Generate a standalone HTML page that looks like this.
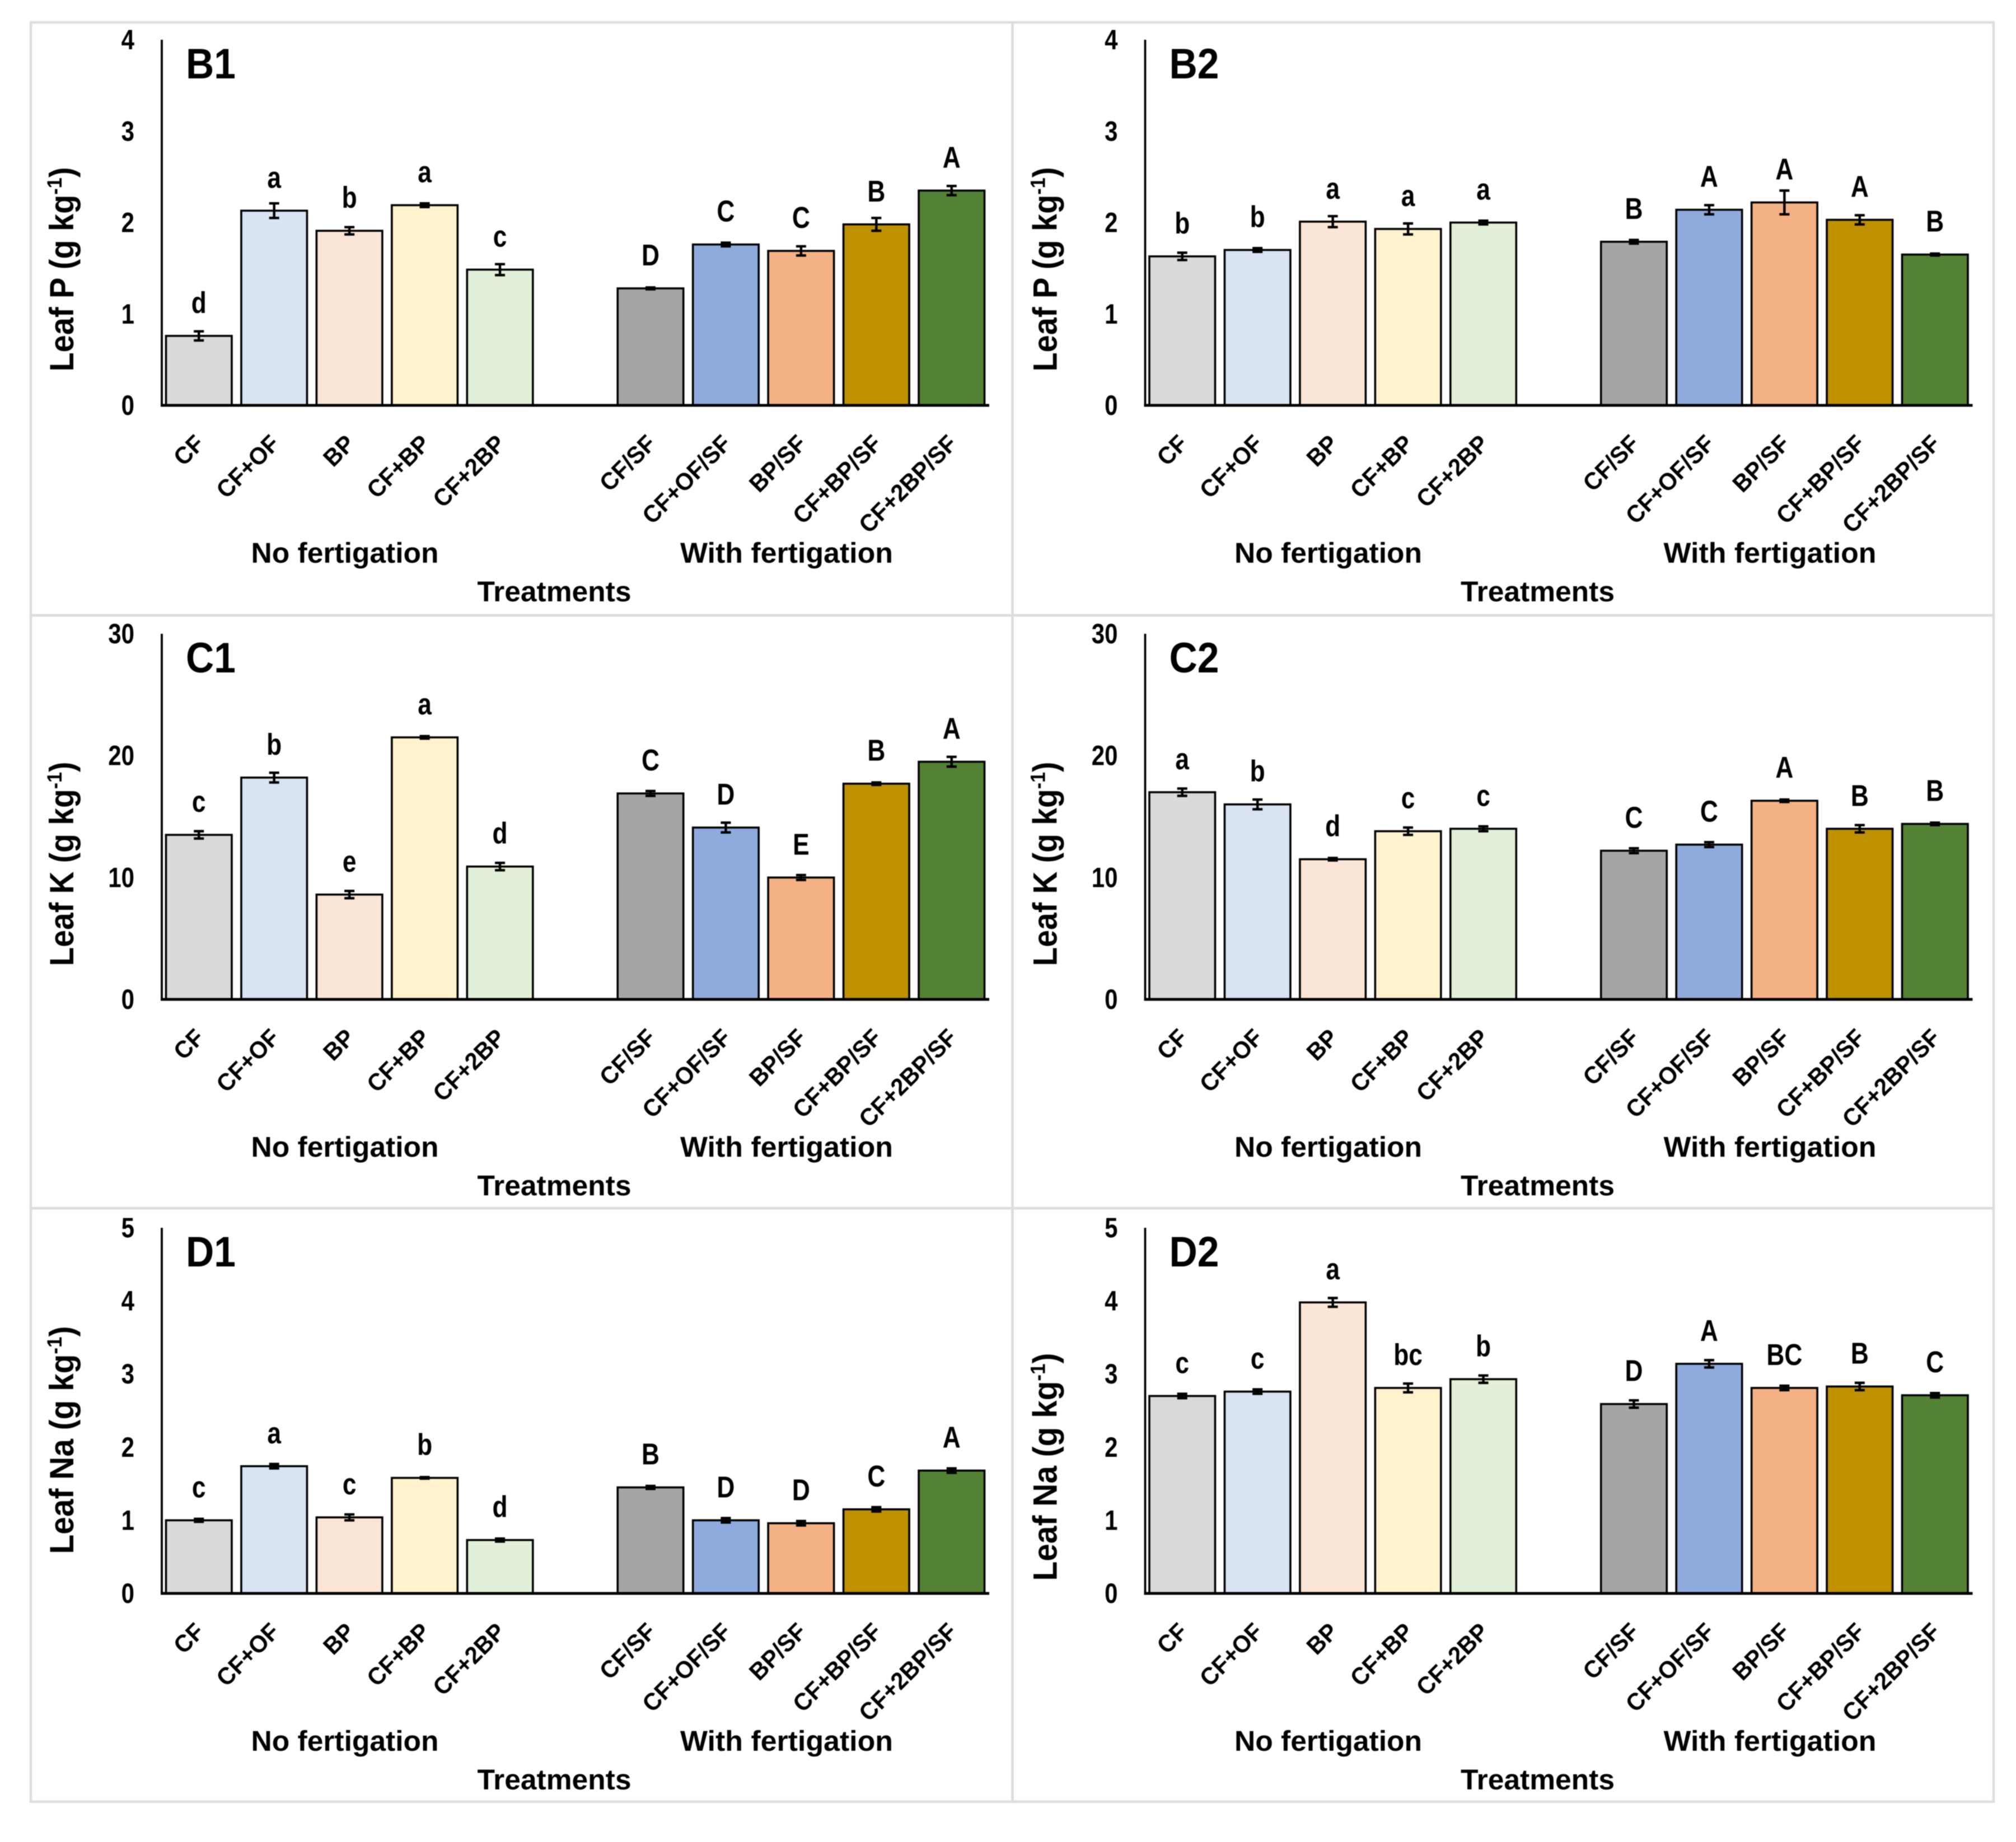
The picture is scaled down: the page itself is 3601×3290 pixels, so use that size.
<!DOCTYPE html>
<html lang="en">
<head>
<meta charset="utf-8">
<title>Leaf nutrient concentrations by treatment</title>
<style>
  html, body { margin: 0; padding: 0; background: #fff; }
  svg { display: block; filter: blur(0.7px); }
  text { font-family: "Liberation Sans", sans-serif; font-weight: 700; fill: #000; }
</style>
</head>
<body>
<svg id="figure" xmlns="http://www.w3.org/2000/svg" width="3601" height="3290" viewBox="0 0 3601 3290">
  <rect x="0" y="0" width="3601" height="3290" fill="#ffffff"/>
</svg>
<script>
// ---- Chart data -------------------------------------------------------
const categories = ['CF', 'CF+OF', 'BP', 'CF+BP', 'CF+2BP', '', 'CF/SF', 'CF+OF/SF', 'BP/SF', 'CF+BP/SF', 'CF+2BP/SF'];
const groupLabels = ['No fertigation', 'With fertigation'];
const barColors = ['#D9D9D9', '#DAE3F3', '#FBE5D6', '#FFF2CC', '#E2F0D9', 'none', '#A5A5A5', '#8FAADC', '#F4B183', '#BF9000', '#548235'];

const ticksP = [0, 1, 2, 3, 4];
const ticksK = [0, 10, 20, 30];
const ticksNa = [0, 1, 2, 3, 4, 5];

const valuesB1 = [0.76, 2.13, 1.91, 2.19, 1.485, null, 1.28, 1.76, 1.69, 1.98, 2.35];
const errorsB1 = [0.05, 0.08, 0.04, 0.02, 0.06, null, 0.01, 0.02, 0.05, 0.07, 0.05];
const lettersB1 = ['d', 'a', 'b', 'a', 'c', '', 'D', 'C', 'C', 'B', 'A'];

const valuesB2 = [1.63, 1.70, 2.01, 1.93, 2.00, null, 1.79, 2.14, 2.22, 2.03, 1.65];
const errorsB2 = [0.04, 0.02, 0.06, 0.06, 0.02, null, 0.02, 0.05, 0.13, 0.05, 0.01];
const lettersB2 = ['b', 'b', 'a', 'a', 'a', '', 'B', 'A', 'A', 'A', 'B'];

const valuesC1 = [13.5, 18.2, 8.6, 21.5, 10.9, null, 16.9, 14.1, 10.0, 17.7, 19.5];
const errorsC1 = [0.3, 0.4, 0.3, 0.1, 0.3, null, 0.2, 0.4, 0.2, 0.1, 0.4];
const lettersC1 = ['c', 'b', 'e', 'a', 'd', '', 'C', 'D', 'E', 'B', 'A'];

const valuesC2 = [17.0, 16.0, 11.5, 13.8, 14.0, null, 12.2, 12.7, 16.3, 14.0, 14.4];
const errorsC2 = [0.3, 0.4, 0.1, 0.3, 0.2, null, 0.2, 0.2, 0.1, 0.3, 0.1];
const lettersC2 = ['a', 'b', 'd', 'c', 'c', '', 'C', 'C', 'A', 'B', 'B'];

const valuesD1 = [1.00, 1.74, 1.04, 1.58, 0.73, null, 1.45, 1.00, 0.96, 1.15, 1.68];
const errorsD1 = [0.02, 0.03, 0.04, 0.01, 0.02, null, 0.02, 0.03, 0.03, 0.03, 0.03];
const lettersD1 = ['c', 'a', 'c', 'b', 'd', '', 'B', 'D', 'D', 'C', 'A'];

const valuesD2 = [2.70, 2.76, 3.98, 2.81, 2.93, null, 2.59, 3.14, 2.81, 2.83, 2.71];
const errorsD2 = [0.03, 0.03, 0.06, 0.06, 0.05, null, 0.05, 0.05, 0.03, 0.05, 0.03];
const lettersD2 = ['c', 'c', 'a', 'bc', 'b', '', 'D', 'A', 'BC', 'B', 'C'];

const panels = [
  { id: 'B1', col: 0, row: 0, nutrient: 'P',  ticks: ticksP,  values: valuesB1, errors: errorsB1, letters: lettersB1 },
  { id: 'B2', col: 1, row: 0, nutrient: 'P',  ticks: ticksP,  values: valuesB2, errors: errorsB2, letters: lettersB2 },
  { id: 'C1', col: 0, row: 1, nutrient: 'K',  ticks: ticksK,  values: valuesC1, errors: errorsC1, letters: lettersC1 },
  { id: 'C2', col: 1, row: 1, nutrient: 'K',  ticks: ticksK,  values: valuesC2, errors: errorsC2, letters: lettersC2 },
  { id: 'D1', col: 0, row: 2, nutrient: 'Na', ticks: ticksNa, values: valuesD1, errors: errorsD1, letters: lettersD1 },
  { id: 'D2', col: 1, row: 2, nutrient: 'Na', ticks: ticksNa, values: valuesD2, errors: errorsD2, letters: lettersD2 }
];

// ---- Layout -----------------------------------------------------------
const SVG_NS = 'http://www.w3.org/2000/svg';
const svg = document.getElementById('figure');
const COL_STEP = 1756.5, ROW_STEP = 1061;
const AXIS_LEFT = 289, AXIS_RIGHT = 1767, AXIS_TOP = 71, AXIS_BOTTOM = 724;
const BAND = (AXIS_RIGHT - 288) / categories.length;
const BAR_WIDTH = 117.5;
const CAP_HALF = 9;

function make(tag, attrs, parent) {
  const el = document.createElementNS(SVG_NS, tag);
  for (const key in attrs) el.setAttribute(key, attrs[key]);
  parent.appendChild(el);
  return el;
}

function place(el, x, y, rotate, fitWidth, scaleX) {
  let sx = scaleX || 1;
  if (fitWidth) sx = fitWidth / el.getComputedTextLength();
  el.setAttribute('transform', 'translate(' + x + ' ' + y + ') rotate(' + (rotate || 0) + ') scale(' + sx + ' 1)');
}

// Panel frames
const frameColumns = [55, 1808.5, 3561];
const frameRows = [40, 1099, 2158, 3218];
const frames = make('g', { fill: 'none', stroke: '#dddddd', 'stroke-width': 4.5 }, svg);


for (let c = 0; c < 2; c++) {
  for (let r = 0; r < 3; r++) {
    const frame = make('rect', {
      x: frameColumns[c], y: frameRows[r],
      width: frameColumns[c + 1] - frameColumns[c],
      height: frameRows[r + 1] - frameRows[r]
    }, frames);
    
    
  }
}

panels.forEach(function (p) {
  const maxTick = p.ticks[p.ticks.length - 1];
  const yScale = function (v) { return AXIS_BOTTOM - (v / maxTick) * (AXIS_BOTTOM - AXIS_TOP); };
  const xScale = function (i) { return 288 + BAND * (i + 0.5); };

  const g = make('g', { transform: 'translate(' + (p.col * COL_STEP) + ' ' + (p.row * ROW_STEP) + ')' }, svg);
  
  

  // Bars, error bars, significance letters
  p.values.forEach(function (value, i) {
    if (value === null) return;
    const cx = xScale(i);
    const bar = make('rect', {
      x: cx - BAR_WIDTH / 2, y: yScale(value),
      width: BAR_WIDTH, height: AXIS_BOTTOM - yScale(value),
      fill: barColors[i], stroke: '#000000', 'stroke-width': 3.6
    }, g);
    
    

    const hi = yScale(value + p.errors[i]);
    const lo = yScale(value - p.errors[i]);
    const err = make('path', {
      d: 'M' + (cx - CAP_HALF) + ' ' + hi + 'H' + (cx + CAP_HALF) +
         'M' + cx + ' ' + hi + 'V' + lo +
         'M' + (cx - CAP_HALF) + ' ' + lo + 'H' + (cx + CAP_HALF),
      fill: 'none', stroke: '#000000', 'stroke-width': 4.4
    }, g);
    
    

    const letter = make('text', { 'font-size': 54, 'text-anchor': 'middle' }, g);
    letter.textContent = p.letters[i];
    
    
    place(letter, cx, yScale(value) - 41, 0, 0, 0.82);

    const catLabel = make('text', { 'font-size': 43, 'text-anchor': 'end' }, g);
    catLabel.textContent = categories[i];
    
    
    place(catLabel, cx + 12, 795, -45, 0, 0.97);
  });

  // Axes
  const yAxis = make('line', { x1: AXIS_LEFT, x2: AXIS_LEFT, y1: AXIS_TOP, y2: AXIS_BOTTOM, stroke: '#000', 'stroke-width': 3.8 }, g);
  
  
  const xAxis = make('line', { x1: AXIS_LEFT - 2, x2: AXIS_RIGHT, y1: AXIS_BOTTOM, y2: AXIS_BOTTOM, stroke: '#000', 'stroke-width': 5 }, g);
  
  

  // Y tick labels
  p.ticks.forEach(function (tick) {
    const t = make('text', { 'font-size': 50, 'text-anchor': 'end' }, g);
    t.textContent = tick;
    
    
    place(t, 240, yScale(tick) + 17, 0, 0, 0.84);
  });

  // Y axis title
  const isNa = p.nutrient === 'Na';
  const title = make('text', { 'font-size': 60, 'text-anchor': 'middle' }, g);
  
  
  title.appendChild(document.createTextNode('Leaf ' + p.nutrient + '  (g kg'));
  const sup = make('tspan', { 'font-size': 37, dy: -21 }, title);
  sup.textContent = '-1';
  const close = make('tspan', { dy: 21 }, title);
  close.textContent = ')';
  let titleCenter = 481;
  if (p.id === 'C1' || p.id === 'C2') titleCenter = 482;
  if (p.id === 'D1') titleCenter = 450;
  if (p.id === 'D2') titleCenter = 498;
  place(title, 131, titleCenter, -90, isNa ? 407 : 365);

  // Panel tag
  const tag = make('text', { 'font-size': 76 }, g);
  tag.textContent = p.id;
  
  
  place(tag, 332, 140, 0, 89);

  // Group labels
  const groupCenters = [616, 1405];
  const groupWidths = [335, 380];
  groupLabels.forEach(function (label, k) {
    const t = make('text', { 'font-size': 51, 'text-anchor': 'middle' }, g);
    t.textContent = label;
    
    
    place(t, groupCenters[k], 1005, 0, groupWidths[k]);
  });

  // X axis title
  const xTitle = make('text', { 'font-size': 51, 'text-anchor': 'middle' }, g);
  xTitle.textContent = 'Treatments';
  
  
  place(xTitle, 990, 1074, 0, 275);
});
</script>
</body>
</html>
